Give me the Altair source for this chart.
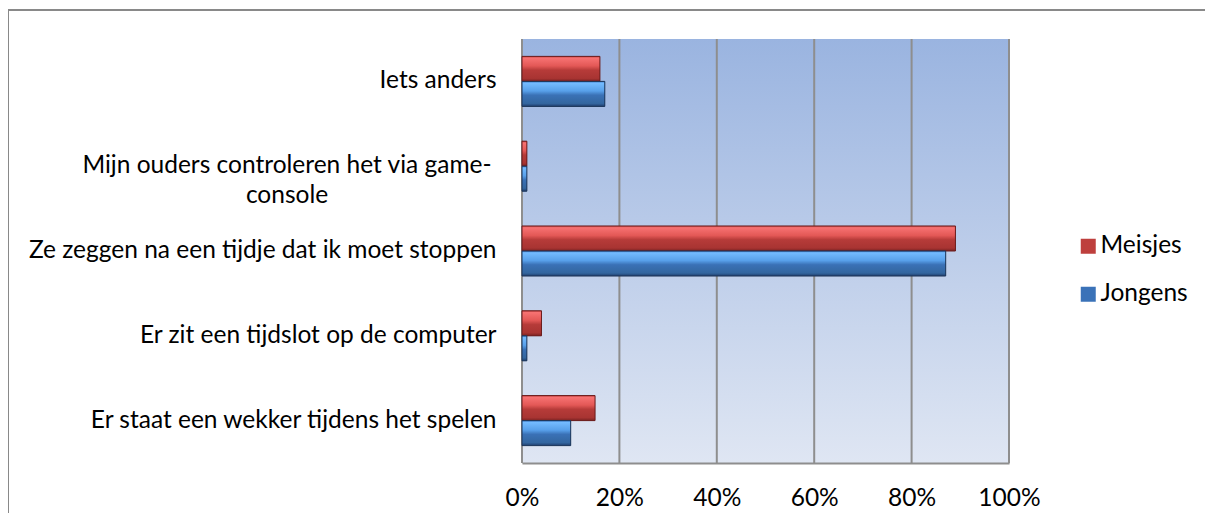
import altair as alt
import pandas as pd

categories = [
    "Iets anders",
    "Mijn ouders controleren het via game-console",
    "Ze zeggen na een tijdje dat ik moet stoppen",
    "Er zit een tijdslot op de computer",
    "Er staat een wekker tijdens het spelen",
]
wrapped = {"Mijn ouders controleren het via game-console": "Mijn ouders controleren het via game-\nconsole"}
meisjes = [16, 1, 89, 4, 15]
jongens = [17, 1, 87, 1, 10]
series = ["Meisjes", "Jongens"]
series_colors = ["#BE3F3D", "#3A72B8"]
x_ticks = [0, 20, 40, 60, 80, 100]

rows = []
for c, m, j in zip(categories, meisjes, jongens):
    rows.append({"cat": c, "serie": "Meisjes", "val": m})
    rows.append({"cat": c, "serie": "Jongens", "val": j})
df = pd.DataFrame(rows)
ticks_df = pd.DataFrame({"t": x_ticks})
wrap_df = pd.DataFrame({"cat": list(wrapped.keys()), "txt": list(wrapped.values())})

FONT = "Lato"
FS = 24.5
W, H = 487, 424

label_expr = "datum.label == 'Mijn ouders controleren het via game-console' ? '' : datum.label"

x_scale = alt.Scale(domain=[0, 100], nice=False)
y_scale = alt.Scale(paddingInner=0.41, paddingOuter=0.205)

x_enc = alt.X(
    "val:Q",
    scale=x_scale,
    axis=alt.Axis(
        values=x_ticks,
        labelExpr="datum.value + '%'",
        grid=False,
        ticks=False,
        labelFlush=False,
        domainColor="#8E8E8E",
        domainWidth=2,
        labelPadding=23,
        labelFontSize=FS,
        labelFont=FONT,
        labelColor="#000000",
        title=None,
        zindex=1,
    ),
)
y_enc = alt.Y(
    "cat:N",
    sort=categories,
    scale=y_scale,
    axis=alt.Axis(
        labelExpr=label_expr,
        ticks=False,
        domain=False,
        labelPadding=26,
        labelFontSize=FS,
        labelFont=FONT,
        labelColor="#000000",
        labelLimit=600,
        title=None,
        zindex=1,
    ),
)
yoff = alt.YOffset("serie:N", sort=series, scale=alt.Scale(paddingInner=0, paddingOuter=0))

base = alt.Chart(df)

bars = base.mark_bar().encode(
    x=x_enc,
    y=y_enc,
    yOffset=yoff,
    color=alt.Color(
        "serie:N",
        sort=series,
        scale=alt.Scale(domain=series, range=series_colors),
        legend=alt.Legend(
            title=None,
            orient="none",
            legendX=554,
            legendY=195,
            symbolType="square",
            symbolSize=225,
            symbolStrokeWidth=0,
            labelFontSize=FS,
            labelFont=FONT,
            labelColor="#000000",
            rowPadding=23,
            labelOffset=0,
        ),
    ),
)


def bevel_layer(name, stops, edge):
    return base.transform_filter(alt.datum.serie == name).mark_bar(
        fill=alt.Gradient(
            gradient="linear",
            x1=0, y1=0, x2=0, y2=1,
            stops=[alt.GradientStop(offset=o, color=c) for o, c in stops],
        ),
        stroke=edge,
        strokeWidth=1,
    ).encode(x="val:Q", y=alt.Y("cat:N", sort=categories), yOffset=yoff)


red_bevel = bevel_layer(
    "Meisjes",
    [(0, "#C84444"), (0.07, "#F77272"), (0.38, "#E35856"), (0.55, "#B63B39"),
     (0.88, "#A83432"), (1, "#7A2222")],
    "#6A1C1C",
)
blue_bevel = bevel_layer(
    "Jongens",
    [(0, "#3A78C8"), (0.07, "#74BBFF"), (0.38, "#58A0EA"), (0.55, "#3A71B6"),
     (0.88, "#33669F"), (1, "#203F6E")],
    "#1D3558",
)

wrap_label = alt.Chart(wrap_df).mark_text(
    align="center",
    baseline="middle",
    lineBreak="\n",
    lineHeight=30,
    font=FONT,
    fontSize=FS,
    color="#000000",
    dx=-209,
).encode(
    y=alt.Y("cat:N", sort=categories, scale=y_scale),
    x=alt.value(-26),
    text="txt:N",
)

one = alt.Chart(pd.DataFrame({"k": [0]}))

frame = one.mark_rect(fill=None, stroke="#898989", strokeWidth=2).encode(
    x=alt.value(-514), x2=alt.value(900), y=alt.value(-29), y2=alt.value(700)
)

bg = one.mark_rect(
    fill=alt.Gradient(
        gradient="linear",
        x1=0, y1=0, x2=0, y2=1,
        stops=[
            alt.GradientStop(offset=0, color="#9AB4E0"),
            alt.GradientStop(offset=1, color="#DFE6F3"),
        ],
    )
).encode(x=alt.value(0), x2=alt.value(W), y=alt.value(0), y2=alt.value(H))

grid = alt.Chart(ticks_df).mark_rule(color="#8E8E8E", strokeWidth=2).encode(
    x=alt.X("t:Q", scale=x_scale), y=alt.value(0), y2=alt.value(H)
)

chart = alt.layer(frame, bg, grid, bars, red_bevel, blue_bevel, wrap_label).properties(
    width=W,
    height=H,
    autosize=alt.AutoSizeParams(type="none"),
    padding={"left": 514, "top": 31, "right": 196, "bottom": 50},
).configure_view(stroke=None).configure(background="#FFFFFF")

chart.save("out.html", embed_options={"renderer": "svg", "actions": False})
